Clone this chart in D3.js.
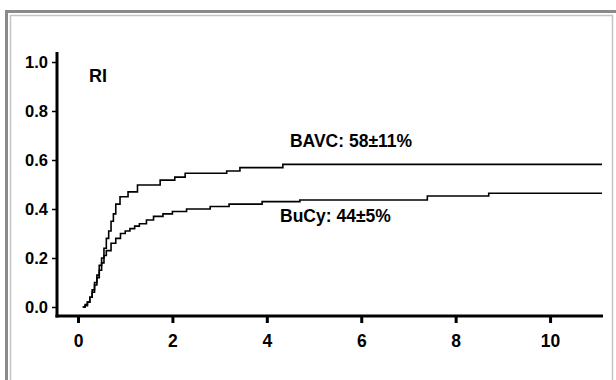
<!DOCTYPE html>
<html>
<head>
<meta charset="utf-8">
<script src="https://cdn.jsdelivr.net/npm/d3@7"></script>
<style>
  body { margin: 0; background: #fff; }
  svg { display: block; }
  text { font-family: "Liberation Sans", Arial, sans-serif; font-weight: bold; fill: #000; }
</style>
</head>
<body>
<svg id="chart" width="616" height="380"></svg>
<script>
// cumulative incidence (years, fraction)
const bavcT = [0.1, 0.15, 0.2, 0.25, 0.3, 0.35, 0.4, 0.45, 0.5, 0.55, 0.6, 0.65, 0.7, 0.75, 0.8, 0.89, 1.06, 1.26, 1.74, 2.05, 2.27, 3.15, 3.43, 4.34, 11.1];
const bavcV = [0, 0.01, 0.02, 0.04, 0.07, 0.1, 0.13, 0.17, 0.2, 0.24, 0.28, 0.31, 0.35, 0.38, 0.42, 0.45, 0.47, 0.498, 0.518, 0.53, 0.546, 0.555, 0.569, 0.582, 0.582];
const bucyT = [0.1, 0.15, 0.2, 0.25, 0.3, 0.35, 0.4, 0.45, 0.5, 0.55, 0.6, 0.7, 0.8, 0.9, 1.0, 1.1, 1.2, 1.3, 1.45, 1.6, 1.8, 2.0, 2.3, 2.8, 3.2, 3.9, 4.7, 7.4, 8.7, 11.1];
const bucyV = [0, 0.005, 0.02, 0.04, 0.06, 0.09, 0.12, 0.15, 0.18, 0.21, 0.23, 0.26, 0.28, 0.3, 0.31, 0.32, 0.33, 0.34, 0.355, 0.37, 0.38, 0.39, 0.4, 0.41, 0.42, 0.43, 0.437, 0.453, 0.464, 0.464];
const xTicks = [0, 2, 4, 6, 8, 10];
const yTicks = [0, 0.2, 0.4, 0.6, 0.8, 1.0];
const seriesLabels = ["BAVC: 58\u00b111%", "BuCy: 44\u00b15%"];
const panelLabel = "RI";

const svg = d3.select("#chart");

// double picture frame
svg.append("path")
  .attr("d", "M6.5,380 V11.5 H616")
  .attr("fill", "none").attr("stroke", "#8a8a8a").attr("stroke-width", 3);
svg.append("path")
  .attr("d", "M10.5,380 V15.5 H612.5 V380")
  .attr("fill", "none").attr("stroke", "#c4c4c4").attr("stroke-width", 1.5);

const x = d3.scaleLinear().domain([0, 11.1]).range([78, 602]);
const y = d3.scaleLinear().domain([0, 1]).range([307, 62]);
const axisY = 316, axisX = 57;

// y axis
const yAxis = d3.axisLeft(y).tickValues(yTicks).tickSize(4).tickPadding(4)
  .tickFormat(d3.format(".1f"));
const yg = svg.append("g").attr("transform", `translate(${axisX - 1},0)`).call(yAxis);
yg.select(".domain").remove();
yg.selectAll(".tick line").attr("stroke", "#000").attr("stroke-width", 1.5);
yg.selectAll(".tick text").style("font-size", "16.5px");

svg.append("line").attr("x1", axisX).attr("x2", axisX).attr("y1", 52).attr("y2", axisY + 1.5)
  .attr("stroke", "#000").attr("stroke-width", 3);

// x axis
const xAxis = d3.axisBottom(x).tickValues(xTicks).tickSize(7).tickPadding(12);
const xg = svg.append("g").attr("transform", `translate(0,${axisY})`).call(xAxis);
xg.select(".domain").remove();
xg.selectAll(".tick line").attr("stroke", "#000").attr("stroke-width", 3);
xg.selectAll(".tick text").style("font-size", "17.5px");

svg.append("line").attr("x1", axisX - 1.5).attr("x2", 603).attr("y1", axisY).attr("y2", axisY)
  .attr("stroke", "#000").attr("stroke-width", 3);

// curves
const line = d3.line().x(d => x(d[0])).y(d => y(d[1])).curve(d3.curveStepAfter);
const bavc = d3.zip(bavcT, bavcV);
const bucy = d3.zip(bucyT, bucyV);
[bavc, bucy].forEach(s => {
  svg.append("path").datum(s).attr("d", line)
    .attr("fill", "none").attr("stroke", "#000").attr("stroke-width", 1.6);
});

// labels
svg.append("text").attr("x", 89).attr("y", 82).style("font-size", "18px").text(panelLabel);
svg.append("text").attr("x", x(4.49)).attr("y", y(0.655)).style("font-size", "17.5px").text(seriesLabels[0]);
svg.append("text").attr("x", x(4.28)).attr("y", y(0.345)).style("font-size", "17.5px").text(seriesLabels[1]);
</script>
</body>
</html>
